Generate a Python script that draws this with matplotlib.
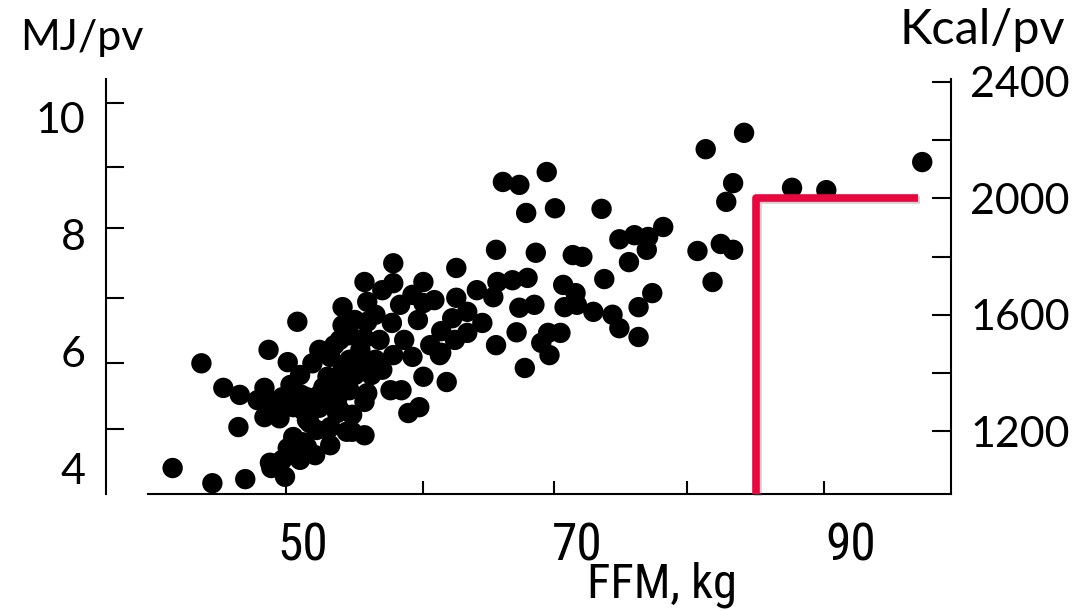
import matplotlib
matplotlib.use("Agg")
import matplotlib.pyplot as plt
import matplotlib.patheffects as pe

# scatter data: fat-free mass (kg) vs energy expenditure (MJ per day)
ffm = [40.5, 43.4, 45.8, 42.6, 44.2, 45.4, 45.3, 47.5, 48.9, 49.6, 52.9, 47.2, 47.4, 48.5, 49.9, 47.2, 48.3,
       49.3, 47.7, 48.7, 48.5, 48.9, 50.0, 51.0, 52.0, 53.2, 50.7, 52.0, 52.9, 51.5, 52.5, 52.5, 50.3, 50.7,
       56.6, 61.2, 54.5, 56.6, 58.8, 55.8, 58.0, 61.2, 52.9, 54.7, 58.8, 56.5, 54.7, 60.9, 58.4, 62.0, 60.1,
       54.2, 54.5, 56.6, 58.0, 60.0, 58.8, 60.5, 55.8, 52.9, 51.8, 50.3, 54.7, 56.4, 57.2, 50.0, 52.7, 54.5,
       57.7, 58.5, 51.8, 53.6, 54.5, 49.3, 50.5, 49.1, 50.3, 47.6,
       51.2, 52.3, 53.4, 53.8, 51.2, 53.4, 52.3, 55.3, 53.8, 55.3, 53.4, 55.6, 55.0, 49.8, 49.1, 51.2, 53.6,
       52.0, 50.9, 49.8, 52.7, 54.3, 48.0, 46.7, 49.2, 61.1, 59.3, 57.4, 57.1, 59.6,
       67.8, 64.6, 65.8, 66.3, 68.4, 71.8, 73.1, 74.2, 75.2, 76.3, 75.1, 73.8, 64.1, 67.0, 69.7, 70.4, 72.0,
       62.7, 64.2, 65.3, 66.4, 63.9, 65.8, 66.9, 69.0, 69.9, 69.1, 70.0, 71.2, 72.6, 73.1, 74.5, 75.5, 74.5,
       62.0, 63.1, 65.6, 67.9, 68.8, 67.4, 68.0, 64.1, 66.2, 60.1,
       82.2, 79.4, 95.2, 81.4, 80.9, 85.7, 88.2, 78.8, 80.5, 81.4, 79.9]
mj = [4.00, 3.74, 3.81, 5.79, 5.37, 5.25, 4.70, 6.02, 5.81, 6.50, 6.44, 5.37, 5.16, 5.21, 5.25, 4.87, 4.85,
      5.04, 4.00, 3.85, 4.14, 4.34, 4.44, 4.65, 4.70, 4.62, 5.79, 5.90, 5.68, 5.38, 5.16, 4.94, 4.82, 5.04,
      7.50, 7.42, 7.18, 7.16, 7.18, 7.04, 6.96, 6.91, 6.75, 6.84, 6.82, 6.48, 6.50, 6.56, 6.53, 6.31, 6.34,
      6.02, 6.22, 5.93, 5.90, 5.93, 5.56, 5.47, 5.68, 5.50, 5.56, 5.21, 5.28, 5.33, 5.33, 4.99, 4.99, 5.13,
      4.94, 5.04, 4.65, 4.62, 4.56, 4.53, 4.77, 4.31, 4.36, 4.09,
      6.02, 6.10, 5.85, 5.59, 5.25, 5.33, 5.42, 5.85, 6.53, 6.62, 6.27, 6.19, 5.59, 5.59, 5.42, 5.03, 4.91,
      4.39, 4.22, 4.14, 6.19, 5.76, 5.03, 5.16, 5.38, 6.19, 6.10, 6.19, 6.79, 6.87,
      9.06, 8.89, 8.84, 8.36, 8.44, 8.43, 7.91, 7.98, 7.95, 8.12, 7.73, 7.52, 7.73, 7.68, 7.64, 7.61, 7.23,
      7.04, 7.18, 7.21, 7.25, 6.92, 6.74, 6.79, 7.13, 6.99, 6.75, 6.79, 6.67, 6.62, 6.39, 6.75, 6.99, 6.24,
      6.67, 6.48, 6.32, 6.31, 6.31, 6.14, 5.93, 6.10, 5.71, 5.97,
      9.73, 9.45, 9.23, 8.87, 8.55, 8.79, 8.75, 7.71, 7.83, 7.73, 7.18]

# tick labels and (offset) tick marks, as drawn on the slide
x_labels = [50, 70, 90]
x_marks = [48.8, 58.8, 68.3, 78.0, 88.0]
mj_labels = [4, 6, 8, 10]
mj_marks = [4.67, 5.79, 6.91, 8.10, 9.15, 10.24]
kcal_labels = [1200, 1600, 2000, 2400]
kcal_marks = [1400, 1800, 2200]

# red threshold marker: 2000 kcal, from FFM ~83 kg to the right
limit_ffm = [83.1, 83.1, 94.9]
limit_kcal = [None, 2000, 2000]

red = "#e8073f"
label_font = ["Lato", "DejaVu Sans"]
narrow_font = ["Roboto Condensed", "DejaVu Sans"]

fig = plt.figure(figsize=(10.73, 6.11), dpi=100)
ax = fig.add_axes([0.1379, 0.1915, 0.8863 - 0.1379, 0.8707 - 0.1915])
ax2 = ax.twinx()

ax.scatter(ffm, mj, s=215, color="black", edgecolors="none", zorder=3, clip_on=False)

ax.set_xlim(38.7, 97.3)
ax.set_ylim(3.556, 10.65)
ax2.set_ylim(984.6, 2410)

bottom = ax2.get_ylim()[0]
ys = [bottom if v is None else v for v in limit_kcal]
ax2.plot(limit_ffm, ys, color=red, lw=5.5, solid_joinstyle="round", solid_capstyle="butt",
         zorder=4, clip_on=False,
         path_effects=[pe.SimpleLineShadow(offset=(1.2, -1.2), shadow_color="gray", alpha=0.35),
                       pe.Normal()])

# spines
for s in ["top", "right"]:
    ax.spines[s].set_visible(False)
for s in ["top", "left", "bottom"]:
    ax2.spines[s].set_visible(False)
ax.spines["left"].set_position(("outward", 30))
for sp in [ax.spines["left"], ax.spines["bottom"], ax2.spines["right"]]:
    sp.set_linewidth(1.5)

# x axis
ax.set_xticks(x_labels)
ax.set_xticks(x_marks, minor=True)
ax.tick_params(axis="x", which="major", length=0, pad=20)
ax.tick_params(axis="x", which="minor", direction="in", length=9.5, width=1.5)
for t in ax.get_xticklabels():
    t.set_family(narrow_font)
    t.set_stretch("condensed")
    t.set_fontsize(37)

# left axis
ax.set_yticks(mj_labels)
ax.set_yticks(mj_marks, minor=True)
ax.tick_params(axis="y", which="major", length=0, pad=15)
ax.tick_params(axis="y", which="minor", direction="in", length=13, width=1.5)
for t in ax.get_yticklabels():
    t.set_family(label_font)
    t.set_fontsize(31)

# right axis
ax2.set_yticks(kcal_labels)
ax2.set_yticks(kcal_marks, minor=True)
ax2.tick_params(axis="y", which="both", direction="in", length=14, width=1.5, pad=14)
for t in ax2.get_yticklabels():
    t.set_family(label_font)
    t.set_fontsize(31)

fig.text(0.0186, 0.918, "MJ/pv", family=label_font, fontsize=31, ha="left", va="baseline")
fig.text(0.993, 0.928, "Kcal/pv", family=label_font, fontsize=35, ha="right", va="baseline")
fig.text(0.617, 0.022, "FFM, kg", family=narrow_font, stretch="condensed", fontsize=35,
         ha="center", va="baseline")

fig.savefig("out.png", dpi=100)
